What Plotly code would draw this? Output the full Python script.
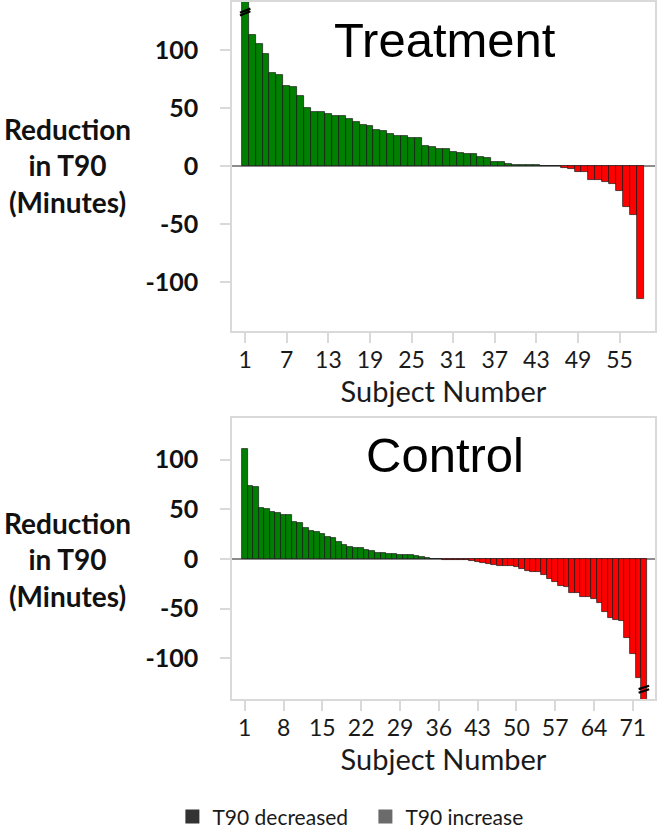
import plotly.graph_objects as go

# ---------------- data ----------------
treatment_subjects = list(range(1, 59))
treatment_values = [
    142, 113.5, 105.5, 96.3, 80.4, 78.2, 69.5, 68.1, 60.3, 50.3,
    46.3, 46.3, 45.1, 43.4, 43.4, 41.1, 38.2, 35.6, 34.5, 31.6,
    30.2, 27.6, 26.4, 26.1, 24.1, 24.1, 17.5, 16.4, 15.2, 15.2,
    12.4, 11.2, 10.3, 10.3, 8.0, 7.2, 3.4, 3.4, 2.3, 1.1,
    1.1, 1.1, 1.1, 0, 0, 0, -1.5, -2.2, -5.0, -5.0,
    -12.3, -12.3, -13.8, -15.5, -21.3, -35.3, -42.2, -114.7,
]
control_subjects = list(range(1, 74))
control_values = [
    111.2, 73.2, 72.2, 51.4, 50.4, 47.0, 46.0, 44.7, 44.0, 37.0,
    36.0, 31.2, 28.2, 26.9, 24.9, 22.2, 21.2, 16.8, 13.8, 12.1,
    10.8, 10.8, 8.7, 7.7, 5.7, 5.7, 4.7, 4.7, 4.0, 4.0,
    4.0, 3.0, 2.0, 0.7, 0, 0, -1.0, -1.0, -1.0, -1.0,
    -1.2, -2.0, -3.0, -3.7, -5.0, -6.4, -7.0, -7.0, -7.0, -7.7,
    -9.7, -11.8, -13.4, -13.4, -15.8, -19.8, -23.2, -27.2, -28.2, -34.6,
    -34.6, -38.6, -38.6, -40.7, -44.0, -53.4, -59.1, -61.8, -62.5, -80.0,
    -96.1, -120.3, -142,
]
treatment_ticks = [1, 7, 13, 19, 25, 31, 37, 43, 49, 55]
control_ticks = [1, 8, 15, 22, 29, 36, 43, 50, 57, 64, 71]
y_ticks = [100, 50, 0, -50, -100]
y_tick_labels = ["100", "50", "0", "-50", "-100"]
legend_names = ["T90 decreased", "T90 increase"]
panel_titles = ["Treatment", "Control"]
y_title = "Reduction<br>in T90<br>(Minutes)"
x_title = "Subject Number"

Y_LIMIT = 142
GREEN = "#008000"
RED = "#ff0000"


def colours(vals):
    return [GREEN if v > 0 else RED for v in vals]


fig = go.Figure()
fig.add_trace(go.Bar(
    x=treatment_subjects, y=treatment_values, xaxis="x", yaxis="y",
    marker=dict(color=colours(treatment_values),
                line=dict(color="rgba(20,20,20,0.85)", width=0.8)),
    showlegend=False,
))
fig.add_trace(go.Bar(
    x=control_subjects, y=control_values, xaxis="x2", yaxis="y2",
    marker=dict(color=colours(control_values),
                line=dict(color="rgba(20,20,20,0.85)", width=0.8)),
    showlegend=False,
))
for name, col in zip(legend_names, ["#333333", "#6b6b6b"]):
    fig.add_trace(go.Scatter(
        x=[None], y=[None], mode="markers", name=name,
        marker=dict(symbol="square", size=14, color=col),
        xaxis="x", yaxis="y",
    ))

tickfont_x = dict(family="Lato", size=23, color="#1a1a1a")
tickfont_y = dict(family="Lato", size=25, color="#111111", weight="bold")
border = "#d9d9d9"


def xaxis(domain, anchor, rng, ticks):
    return dict(
        domain=domain, anchor=anchor, range=rng, automargin=False,
        tickmode="array", tickvals=ticks, ticktext=[str(t) for t in ticks],
        ticks="outside", ticklen=10, tickcolor=border, tickwidth=1.5,
        ticklabelstandoff=-2,
        showline=True, mirror=True, linecolor=border, linewidth=1.5,
        showgrid=False, zeroline=False, tickfont=tickfont_x,
        title=dict(text=x_title, font=dict(family="Lato", size=29, color="#1a1a1a"),
                   standoff=0),
    )


def yaxis(domain, anchor, rng):
    return dict(
        domain=domain, anchor=anchor, range=rng, automargin=False,
        tickmode="array", tickvals=y_ticks, ticktext=y_tick_labels,
        ticks="outside", ticklen=10, tickcolor=border, tickwidth=1.5,
        ticklabelstandoff=17,
        showline=True, mirror=True, linecolor=border, linewidth=1.5,
        showgrid=False, zeroline=True, zerolinecolor="#8c8c8c", zerolinewidth=1.5,
        tickfont=tickfont_y,
    )


fig.update_layout(
    width=658, height=830,
    margin=dict(l=0, r=0, t=0, b=0, autoexpand=False),
    paper_bgcolor="white", plot_bgcolor="white",
    barmode="overlay", bargap=0,
    xaxis=xaxis([0.3526, 0.9954], "y", [-0.9, 60.1], treatment_ticks),
    yaxis=yaxis([0.6012, 0.9976], "x", [-Y_LIMIT, 141.5]),
    xaxis2=xaxis([0.3526, 0.9954], "y2", [-1.3, 75.0], control_ticks),
    yaxis2=yaxis([0.1578, 0.4964], "x2", [-141.2, Y_LIMIT]),
    legend=dict(
        orientation="h", x=0.262, xanchor="left", y=0.0157, yanchor="middle",
        font=dict(family="Lato", size=21, color="#1a1a1a"),
        entrywidth=148, entrywidthmode="pixels",
        itemclick=False,
    ),
    showlegend=True,
)

# panel titles
for title, yref_pos in zip(panel_titles, [(830 - 40) / 830, (830 - 455) / 830]):
    fig.add_annotation(
        text=title, x=445 / 658, y=yref_pos, xref="paper", yref="paper",
        showarrow=False, xanchor="center", yanchor="middle",
        font=dict(family="Liberation Sans", size=49, color="black"),
    )

# y axis titles
for ypos in [(830 - 166) / 830, (830 - 559) / 830]:
    fig.add_annotation(
        text=y_title, x=67 / 658, y=ypos, xref="paper", yref="paper",
        showarrow=False, xanchor="center", yanchor="middle", align="center",
        font=dict(family="Lato", size=28, color="#111111", weight="bold"),
    )

# axis-break markers on the clipped bars
def break_marks(subject, sign, xr, yr, half_w, rise, gap, offset):
    y_c = sign * (Y_LIMIT - offset)
    for k in (0, 1):
        yc = y_c - k * gap
        fig.add_shape(type="line", xref=xr, yref=yr,
                      x0=subject - half_w, x1=subject + half_w,
                      y0=yc - rise / 2, y1=yc + rise / 2,
                      line=dict(color="black", width=2.2))

t_idx = max(range(len(treatment_values)), key=lambda i: abs(treatment_values[i]))
c_idx = max(range(len(control_values)), key=lambda i: abs(control_values[i]))
break_marks(treatment_subjects[t_idx], 1, "x", "y", 0.75, 3.6, 2.3, 8.0)
break_marks(control_subjects[c_idx], -1, "x2", "y2", 0.95, 3.4, 3.6, 12.5)

fig.write_html(
    "out.html",
    config={"displayModeBar": False},
    post_script="document.body.style.margin='0';document.body.style.padding='0';",
)
